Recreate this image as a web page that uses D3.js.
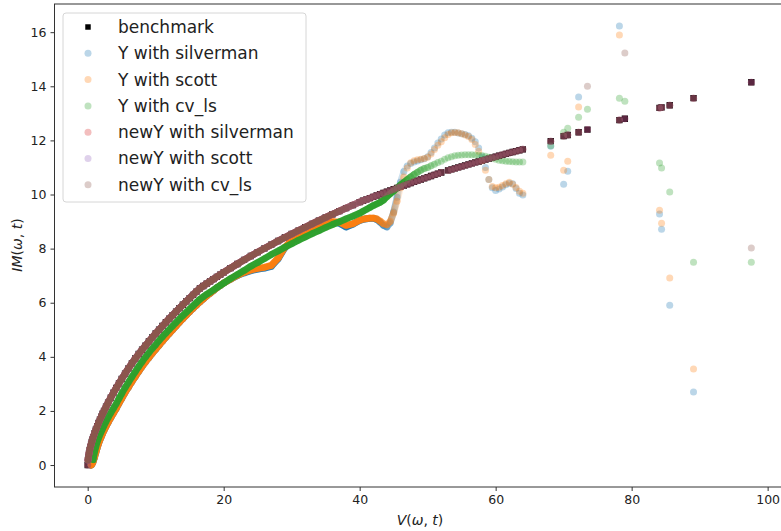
<!DOCTYPE html>
<html>
<head>
<meta charset="utf-8">
<script src="https://cdn.jsdelivr.net/npm/d3@7"></script>
<style>
  body { margin: 0; background: #fff; }
  svg { display: block; font-family: "DejaVu Sans", sans-serif; }
</style>
</head>
<body>
<div id="chart"></div>
<script>
// V(w,t) positions shared by every series
const vGrid = [
  0, 0.05, 0.1, 0.2, 0.3, 0.4, 0.5, 0.6, 0.7, 0.8, 1.0, 1.2, 1.4, 1.6, 1.8, 2.0, 2.2, 2.4, 2.7, 3.0, 3.4, 3.8, 4.2, 4.6, 5.0,
  5.5, 6, 6.5, 7, 7.5, 8, 8.5, 9, 9.5, 10, 10.5, 11, 11.5, 12, 12.5, 13, 13.5, 14, 14.5, 15, 15.5, 16, 16.5, 17, 17.5, 18, 18.5, 19, 19.5, 20,
  21, 22, 23, 24, 25, 26, 27, 28, 29, 30, 31, 32, 33, 34, 35, 36, 37, 38, 39, 40,
  40.5, 41, 41.5, 42, 42.5, 43, 43.5, 44, 44.5, 45, 45.5, 46, 46.5, 47, 47.5, 48, 48.5, 49, 49.5, 50, 50.5, 51, 51.5, 52,
  52.5, 53, 53.5, 54, 54.5, 55, 55.5, 56, 56.5, 57, 57.5, 58, 58.5, 59, 59.5, 60, 60.5, 61, 61.5, 62, 62.5, 63, 63.5, 64,
  68.1, 70, 70.6, 72.2, 73.5, 78.2, 79, 84.1, 84.4, 85.6, 89.1, 97.6
];

const benchmark = [
  0, 0.186, 0.284, 0.435, 0.557, 0.665, 0.763, 0.853, 0.939, 1.018, 1.168, 1.306, 1.436, 1.559, 1.675, 1.788, 1.896, 2.0, 2.155, 2.303, 2.493, 2.675, 2.85, 3.019, 3.183,
  3.381, 3.572, 3.758, 3.938, 4.104, 4.262, 4.417, 4.568, 4.717, 4.861, 5.003, 5.142, 5.278, 5.412, 5.544, 5.674, 5.801, 5.926, 6.05, 6.172, 6.293, 6.412, 6.53, 6.618, 6.705, 6.791, 6.874, 6.957, 7.039, 7.119,
  7.277, 7.431, 7.581, 7.726, 7.869, 8.009, 8.146, 8.28, 8.412, 8.541, 8.667, 8.792, 8.914, 9.034, 9.152, 9.269, 9.384, 9.497, 9.608, 9.72,
  9.769, 9.818, 9.866, 9.914, 9.962, 10.01, 10.057, 10.104, 10.15, 10.196, 10.242, 10.288, 10.333, 10.378, 10.423, 10.467, 10.511, 10.555, 10.598, 10.641, 10.684, 10.727, 10.77, 10.812,
  null, 10.891, 10.928, 10.965, 11.002, 11.039, 11.076, 11.113, 11.149, 11.185, 11.221, 11.256, 11.292, 11.328, 11.363, 11.398, 11.433, 11.468, 11.502, 11.536, 11.57, 11.603, 11.637, 11.671,
  11.97, 12.16, 12.2, 12.3, 12.4, 12.75, 12.8, 13.2, 13.22, 13.3, 13.56, 14.15
];

const ySilverman = [
  null, null, null, null, null, null, 0.0, 0.02, 0.07, 0.12, 0.28, 0.46, 0.64, 0.79, 0.93, 1.05, 1.17, 1.28, 1.43, 1.57, 1.75, 1.92, 2.09, 2.28, 2.46,
  2.68, 2.88, 3.08, 3.27, 3.46, 3.64, 3.81, 3.97, 4.13, 4.28, 4.43, 4.58, 4.72, 4.86, 5.0, 5.14, 5.28, 5.41, 5.54, 5.67, 5.79, 5.91, 6.03, 6.14, 6.25, 6.35, 6.45, 6.55, 6.64, 6.73,
  6.87, 7.0, 7.1, 7.18, 7.24, 7.28, 7.34, 7.62, 8.03, 8.28, 8.46, 8.60, 8.72, 8.82, 8.92, 8.97, 8.94, 8.80, 8.90, 9.04,
  9.08, 9.10, 9.12, 9.12, 9.08, 8.98, 8.86, 8.80, 8.95, 9.35, 9.9, 10.45, 10.85, 11.05, 11.15, 11.2, 11.24, 11.28, 11.32, 11.4, 11.55, 11.72, 11.9, 12.05,
  12.2, 12.28, 12.3, 12.3, 12.27, 12.25, 12.22, 12.17, 12.08, 11.95, 11.72, 11.4, 11.0, 10.55, 10.25, 10.15, 10.2, 10.28, 10.36, 10.42, 10.4, 10.22, 10.05, 9.98,
  11.78, 10.38, 10.86, 13.6, null, 16.23, null, 9.28, 8.72, 5.91, 2.7, null
];

const yScott = [
  null, null, null, null, null, null, 0.0, 0.02, 0.07, 0.12, 0.28, 0.46, 0.64, 0.79, 0.93, 1.05, 1.17, 1.28, 1.43, 1.57, 1.75, 1.92, 2.09, 2.28, 2.46,
  2.68, 2.88, 3.08, 3.27, 3.46, 3.64, 3.81, 3.97, 4.13, 4.28, 4.43, 4.58, 4.72, 4.86, 5.0, 5.14, 5.28, 5.41, 5.54, 5.67, 5.79, 5.91, 6.03, 6.14, 6.25, 6.35, 6.45, 6.55, 6.64, 6.73,
  6.87, 7.01, 7.12, 7.21, 7.27, 7.31, 7.38, 7.65, 8.05, 8.30, 8.48, 8.62, 8.74, 8.84, 8.94, 9.0, 8.98, 8.86, 8.92, 9.05,
  9.09, 9.11, 9.13, 9.13, 9.10, 9.02, 8.92, 8.88, 9.0, 9.32, 9.75, 10.25, 10.65, 10.98, 11.17, 11.25, 11.28, 11.3, 11.33, 11.38, 11.5, 11.66, 11.82, 11.95,
  12.1, 12.22, 12.28, 12.29, 12.28, 12.25, 12.2, 12.14, 12.03, 11.85, 11.6, 11.25, 10.9, 10.55, 10.3, 10.25, 10.27, 10.33, 10.4, 10.45, 10.38, 10.26, 10.12, 10.05,
  11.45, 10.9, 11.23, 13.23, null, 15.9, null, 9.42, 8.94, 6.91, 3.55, null
];

const yCvLs = [
  null, null, null, null, null, null, null, null, null, 0.20, 0.48, 0.68, 0.86, 1.00, 1.13, 1.24, 1.35, 1.46, 1.61, 1.75, 1.93, 2.10, 2.27, 2.46, 2.64,
  2.86, 3.06, 3.26, 3.45, 3.64, 3.82, 3.99, 4.15, 4.31, 4.45, 4.60, 4.74, 4.88, 5.01, 5.14, 5.27, 5.40, 5.53, 5.65, 5.77, 5.89, 6.01, 6.13, 6.22, 6.31, 6.39, 6.47, 6.56, 6.64, 6.72,
  6.89, 7.04, 7.19, 7.35, 7.49, 7.63, 7.78, 7.91, 8.05, 8.18, 8.31, 8.43, 8.55, 8.66, 8.78, 8.89, 8.99, 9.10, 9.20, 9.31,
  9.38, 9.45, 9.52, 9.59, 9.65, 9.71, 9.79, 9.92, 10.03, 10.13, 10.24, 10.35, 10.45, 10.55, 10.65, 10.74, 10.82, 10.90, 10.96, 11.0, 11.06, 11.12, 11.18, 11.23,
  11.30, 11.36, 11.40, 11.43, 11.45, 11.46, 11.47, 11.47, 11.47, 11.46, 11.45, 11.44, 11.41, 11.38, 11.34, 11.30, 11.27, 11.25, 11.23, 11.22, 11.21, 11.20, 11.20, 11.20,
  11.8, 12.3, 12.45, 12.86, 13.15, 13.56, 13.45, 11.16, 10.98, 10.09, 7.5, 7.5
];

// newY estimates sit on the benchmark except where listed here
const newYCvLsOutliers = [
  { v: 73.5, im: 14.0 },
  { v: 79, im: 15.23 },
  { v: 97.6, im: 8.02 }
];
const newYSilverman = benchmark.slice();
const newYScott = benchmark.slice();
const newYCvLs = benchmark.map((im, i) => {
  const o = newYCvLsOutliers.find(d => d.v === vGrid[i]);
  return o ? o.im : im;
});

const xTicks = [0, 20, 40, 60, 80, 100];
const yTicks = [0, 2, 4, 6, 8, 10, 12, 14, 16];

// fade = V range over which the sample thins out from a solid band to single dots
const series = [
  { name: 'benchmark', ys: benchmark, color: '#000000', shape: 'square', alpha: 1 },
  { name: 'Y with silverman', ys: ySilverman, color: '#1f77b4', alpha: 0.3, fade: [42, 47] },
  { name: 'Y with scott', ys: yScott, color: '#ff7f0e', alpha: 0.3, fade: [42, 47] },
  { name: 'Y with cv_ls', ys: yCvLs, color: '#2ca02c', alpha: 0.3, fade: [46, 52] },
  { name: 'newY with silverman', ys: newYSilverman, color: '#d62728', alpha: 0.3, fade: [36, 44] },
  { name: 'newY with scott', ys: newYScott, color: '#9467bd', alpha: 0.3, fade: [36, 44] },
  { name: 'newY with cv_ls', ys: newYCvLs, color: '#8c564b', alpha: 0.3, fade: [36, 44] }
];

const W = 781, H = 531;
const box = { left: 54.5, right: 784.5, top: 4, bottom: 487 };

// matplotlib style 5% margins around the data
const allY = series.flatMap(s => s.ys.filter(v => v !== null));
const xExt = d3.extent(vGrid), yExt = d3.extent(allY);
const xPad = (xExt[1] - xExt[0]) * 0.05, yPad = (yExt[1] - yExt[0]) * 0.05;

const x = d3.scaleLinear().domain([xExt[0] - xPad, xExt[1] + xPad]).range([box.left, box.right]);
const y = d3.scaleLinear().domain([yExt[0] - yPad, yExt[1] + yPad]).range([box.bottom, box.top]);

const svg = d3.select('#chart').append('svg').attr('width', W).attr('height', H);
const defs = svg.append('defs');

defs.append('clipPath').attr('id', 'clip').append('rect')
  .attr('x', box.left).attr('y', box.top)
  .attr('width', box.right - box.left).attr('height', box.bottom - box.top);

// the real sample is very dense at low V, so the translucent dots pile up into
// a solid band there; a faded stroke through the same points stands in for that
series.forEach((s, i) => {
  if (!s.fade) return;
  const g = defs.append('linearGradient').attr('id', 'band' + i)
    .attr('gradientUnits', 'userSpaceOnUse')
    .attr('x1', x(s.fade[0])).attr('x2', x(s.fade[1])).attr('y1', 0).attr('y2', 0);
  g.append('stop').attr('offset', 0).attr('stop-color', s.color).attr('stop-opacity', 0.97);
  g.append('stop').attr('offset', 1).attr('stop-color', s.color).attr('stop-opacity', 0);
});

const plot = svg.append('g').attr('clip-path', 'url(#clip)');
const square = d3.symbol(d3.symbolSquare).size(40);
const band = d3.line()
  .defined(d => d.im !== null && d.v > 0 && d.v <= 64)
  .x(d => x(d.v)).y(d => y(d.im));

series.forEach((s, i) => {
  const pts = vGrid.map((v, j) => ({ v, im: s.ys[j] }));
  const shown = pts.filter(d => d.im !== null);
  if (s.shape === 'square') {
    plot.append('g').attr('fill', s.color).selectAll('path').data(shown).join('path')
      .attr('d', square)
      .attr('transform', d => `translate(${x(d.v)},${y(d.im)})`);
    return;
  }
  plot.append('path').datum(pts)
    .attr('d', band).attr('fill', 'none')
    .attr('stroke', `url(#band${i})`).attr('stroke-width', 6.8)
    .attr('stroke-linecap', 'round').attr('stroke-linejoin', 'round');
  plot.append('g').attr('fill', s.color).attr('fill-opacity', s.alpha)
    .selectAll('circle').data(shown).join('circle')
    .attr('cx', d => x(d.v)).attr('cy', d => y(d.im)).attr('r', 3.5);
});

// axes
const xAxis = svg.append('g').attr('transform', `translate(0,${box.bottom})`)
  .call(d3.axisBottom(x).tickValues(xTicks).tickSize(4).tickPadding(4));
const yAxis = svg.append('g').attr('transform', `translate(${box.left},0)`)
  .call(d3.axisLeft(y).tickValues(yTicks).tickSize(4).tickPadding(4));
[xAxis, yAxis].forEach(a => {
  a.select('.domain').remove();
  a.selectAll('line').attr('stroke', '#333');
  a.selectAll('text').attr('fill', '#222').style('font-size', '12.5px')
    .style('font-family', '"DejaVu Sans", sans-serif');
});

// spines (right one falls outside the window)
svg.append('rect')
  .attr('x', box.left).attr('y', box.top)
  .attr('width', box.right - box.left).attr('height', box.bottom - box.top)
  .attr('fill', 'none').attr('stroke', '#333').attr('stroke-width', 1);

// axis labels
const xl = svg.append('text').attr('x', 420).attr('y', 525).attr('text-anchor', 'middle')
  .style('font-size', '14px').attr('fill', '#222');
xl.append('tspan').style('font-style', 'italic').text('V');
xl.append('tspan').text('(');
xl.append('tspan').style('font-style', 'italic').text('ω');
xl.append('tspan').text(', ');
xl.append('tspan').style('font-style', 'italic').text('t');
xl.append('tspan').text(')');

const yl = svg.append('text').attr('transform', 'translate(22,245) rotate(-90)')
  .attr('text-anchor', 'middle').style('font-size', '14px').attr('fill', '#222');
yl.append('tspan').style('font-style', 'italic').text('IM');
yl.append('tspan').text('(');
yl.append('tspan').style('font-style', 'italic').text('ω');
yl.append('tspan').text(', ');
yl.append('tspan').style('font-style', 'italic').text('t');
yl.append('tspan').text(')');

// legend
const legend = svg.append('g');
legend.append('rect')
  .attr('x', 63).attr('y', 13).attr('width', 243).attr('height', 189).attr('rx', 3)
  .attr('fill', '#fff').attr('fill-opacity', 0.8).attr('stroke', '#d6d6d6');
series.forEach((s, i) => {
  const cy = 27 + i * 26.3;
  if (s.shape === 'square') {
    legend.append('path').attr('d', d3.symbol(d3.symbolSquare).size(30))
      .attr('transform', `translate(88,${cy})`).attr('fill', s.color);
  } else {
    legend.append('circle').attr('cx', 88).attr('cy', cy).attr('r', 3.5)
      .attr('fill', s.color).attr('fill-opacity', s.alpha);
  }
  legend.append('text').attr('x', 118).attr('y', cy).attr('dy', '0.35em')
    .style('font-size', '17px').attr('fill', '#222').text(s.name);
});
</script>
</body>
</html>
